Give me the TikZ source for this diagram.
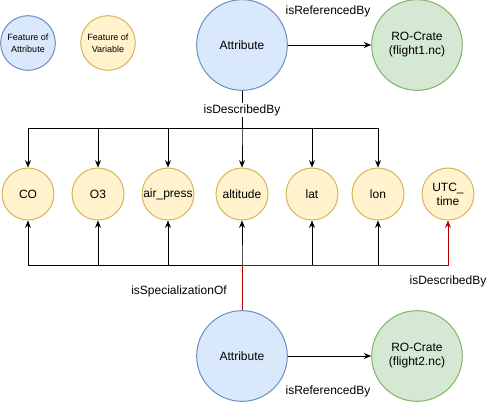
\documentclass[tikz,border=0pt]{standalone}
\usepackage{fontspec}
\setmainfont{Liberation Sans}
\usetikzlibrary{arrows.meta}

\definecolor{attrfill}{HTML}{DAE8FC}
\definecolor{attrline}{HTML}{6C8EBF}
\definecolor{varfill}{HTML}{FFF2CC}
\definecolor{varline}{HTML}{D6B656}
\definecolor{cratefill}{HTML}{D5E8D4}
\definecolor{crateline}{HTML}{82B366}
\definecolor{linered}{HTML}{B20000}

\begin{document}
\begin{tikzpicture}[x=0.75pt,y=-0.75pt,
    font=\fontsize{9}{10.5}\selectfont,
    attr/.style={circle,draw=attrline,fill=attrfill,line width=0.75pt,inner sep=0pt,minimum size=68pt},
    crate/.style={circle,draw=crateline,fill=cratefill,line width=0.75pt,inner sep=0pt,minimum size=68pt,align=center},
    var/.style={circle,draw=varline,fill=varfill,line width=0.75pt,inner sep=0pt,minimum size=39pt,align=center},
    legend/.style={circle,line width=0.75pt,inner sep=0pt,minimum size=41pt,align=center,font=\fontsize{6.75}{9}\selectfont},
    rel/.style={draw=black,line width=0.75pt,-{Stealth[length=5.5pt,width=4.5pt]}},
    lbl/.style={inner sep=1pt}]

    \useasboundingbox (0,0) rectangle (494,401);

    % Legend
    \node[legend,draw=attrline,fill=attrfill] (legattr) at (28,43) {Feature of\\Attribute};
    \node[legend,draw=varline,fill=varfill] (legvar) at (108,43) {Feature of\\Variable};

    % Top attribute and its crate
    \node[attr] (attrtop) at (242,45) {Attribute};
    \node[crate] (cratetop) at (417,45) {RO-Crate\\(flight1.nc)};
    \draw[rel] (attrtop) -- (cratetop);
    \node[lbl] (reftop) at (328,11) {isReferencedBy};

    % Row of variables
    \foreach \name/\x/\txt in {co/28/CO, o3/98/O3, air/168/air\_press, alt/242/altitude, lat/312/lat, lon/378/lon}
        \node[var] (\name) at (\x,194) {\txt};
    \node[var] (utc) at (448,194) {UTC\_\\time};

    % Edges down from the top attribute
    \coordinate (topbus) at (242,128);
    \foreach \name in {co,o3,air,alt,lat,lon}
        \draw[rel] (attrtop.south) -- (topbus) -| (\name.north);
    \node[lbl,fill=white] (desctop) at (242,110) {isDescribedBy};

    % Bottom attribute and its crate
    \node[attr] (attrbot) at (242,356) {Attribute};
    \node[crate] (cratebot) at (417,356) {RO-Crate\\(flight2.nc)};
    \draw[rel] (attrbot) -- (cratebot);
    \node[lbl] (refbot) at (328,391) {isReferencedBy};

    % Edges up from the bottom attribute
    \coordinate (botbus) at (242,265);
    \foreach \name in {co,o3,air,alt,lat,lon}
        \draw[rel] (attrbot.north) -- (botbus) -| (\name.south);
    \draw[rel,draw=linered] (attrbot.north) -- (botbus) -| (utc.south);
    \node[lbl] (spec) at (179,291) {isSpecializationOf};
    \node[lbl] (descbot) at (448,281) {isDescribedBy};

\end{tikzpicture}
\end{document}
